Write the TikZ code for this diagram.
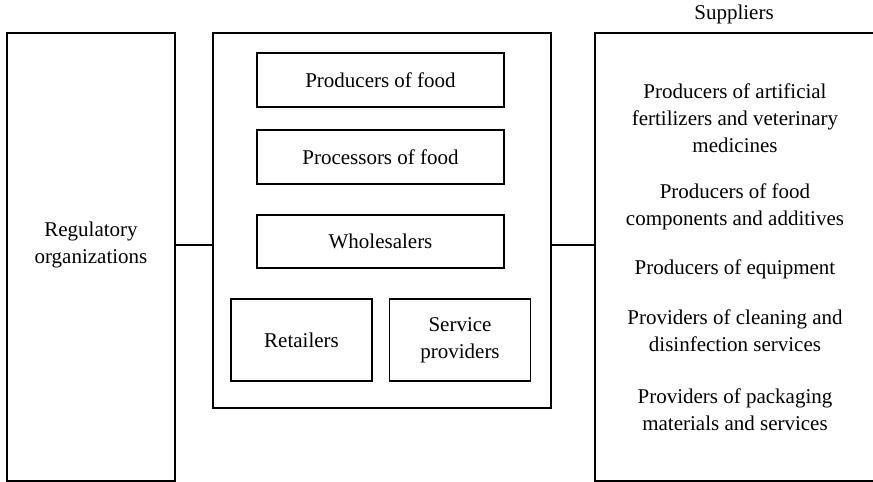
\documentclass[tikz,border=0pt]{standalone}
\usepackage{fontspec}
\setmainfont{Liberation Serif}
\usetikzlibrary{positioning,calc}

\begin{document}
\begin{tikzpicture}[x=0.5pt,y=-0.5pt,
  font=\fontsize{10.5}{13.5}\selectfont,
  box/.style={draw,line width=0.6pt,inner sep=0pt,align=center},
  txt/.style={align=center,inner sep=0pt}]

\useasboundingbox (0,0) rectangle (873,482);

%Outer boxes
\node[box,minimum width=84pt,minimum height=224pt] (reg) at (91,257) {};
\node[box,minimum width=169pt,minimum height=187.5pt] (chain) at (382,220.5) {};
\node[box,minimum width=147.5pt,minimum height=224pt] (supp) at (742.5,257) {};

%Food chain boxes
\node[box,minimum width=123.5pt,minimum height=27pt] (prod) at (380.5,80) {Producers of food};
\node[box,minimum width=123.5pt,minimum height=27pt] (proc) at (380.5,157) {Processors of food};
\node[box,minimum width=123.5pt,minimum height=26.5pt] (whole) at (380.5,241.5) {Wholesalers};
\node[box,minimum width=70.5pt,minimum height=41pt] (retail) at (301.5,340) {Retailers};
\node[box,minimum width=70.5pt,minimum height=41pt] (serv) at (460,340) {Service\\providers};

%Labels
\node[txt] (regtext) at (91,245) {Regulatory\\organizations};
\node[txt] (supptext) at (734,14) {Suppliers};
\node[txt] (sup1) at (735,118) {Producers of artificial\\fertilizers and veterinary\\medicines};
\node[txt] (sup2) at (735,207) {Producers of food\\components and additives};
\node[txt] (sup3) at (735,269) {Producers of equipment};
\node[txt] (sup4) at (735,331) {Providers of cleaning and\\disinfection services};
\node[txt] (sup5) at (735,410) {Providers of packaging\\materials and services};

%Connecting lines
\draw[line width=0.6pt] (reg.east |- regtext) -- (chain.west |- regtext);
\draw[line width=1pt] (chain.east |- regtext) -- (supp.west |- regtext);
\end{tikzpicture}
\end{document}
